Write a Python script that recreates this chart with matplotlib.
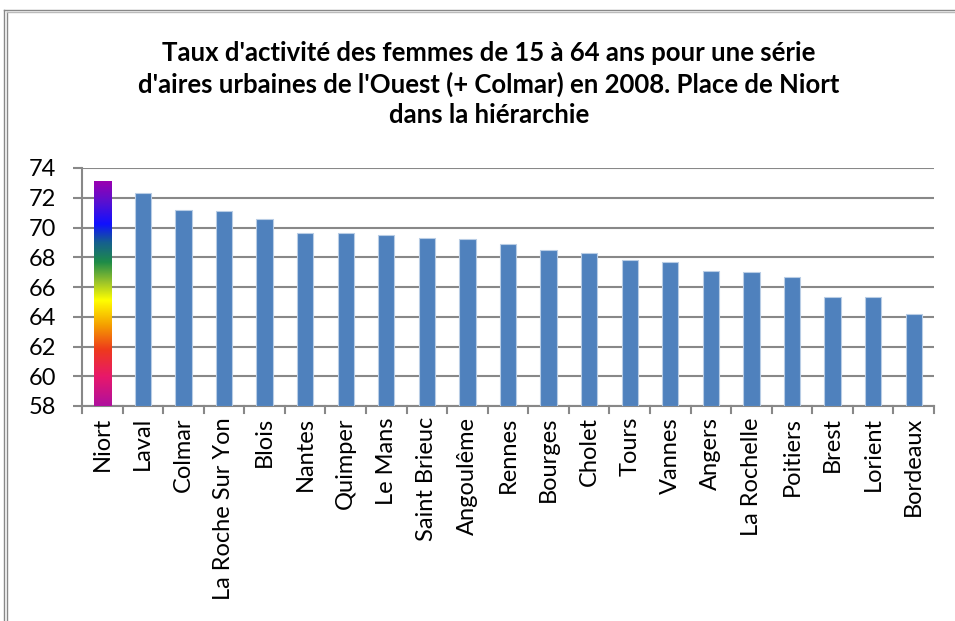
import numpy as np
import matplotlib
matplotlib.use("Agg")
import matplotlib.pyplot as plt
from matplotlib.colors import LinearSegmentedColormap
from matplotlib.lines import Line2D

plt.rcParams['font.family'] = ['Lato', 'DejaVu Sans']

title = "Taux d'activité des femmes de 15 à 64 ans pour une série\nd'aires urbaines de l'Ouest (+ Colmar) en 2008. Place de Niort\ndans la hiérarchie"
villes = ["Niort", "Laval", "Colmar", "La Roche Sur Yon", "Blois", "Nantes", "Quimper",
          "Le Mans", "Saint Brieuc", "Angoulême", "Rennes", "Bourges", "Cholet", "Tours",
          "Vannes", "Angers", "La Rochelle", "Poitiers", "Brest", "Lorient", "Bordeaux"]
taux = [73.1, 72.3, 71.2, 71.1, 70.6, 69.6, 69.6, 69.5, 69.3, 69.2, 68.9, 68.5, 68.3,
        67.8, 67.7, 67.1, 67.0, 66.7, 65.3, 65.3, 64.2]
yticks = [58, 60, 62, 64, 66, 68, 70, 72, 74]

fig = plt.figure(figsize=(9.55, 6.21), dpi=100)
ax = fig.add_axes([82/955, 1-406/621, (934-82)/955, (406-168)/621])

x = np.arange(len(villes))
widths = [0.43] + [0.40]*(len(villes)-1)
bars = ax.bar(x, [t - 58 for t in taux], bottom=58, width=widths, color="#4F81BD",
              edgecolor="#B9CDE5", linewidth=0.8, zorder=3)

# Gradient for Niort bar
grad_colors = [(0.0, "#B0109E"), (0.13, "#E8186A"), (0.25, "#EE3A1C"), (0.36, "#F5A000"),
               (0.47, "#FFFF00"), (0.55, "#9CC42A"), (0.64, "#1E8C48"), (0.73, "#155E90"),
               (0.81, "#1010FF"), (0.91, "#5A10D0"), (1.0, "#9A00B0")]
cmap = LinearSegmentedColormap.from_list("niort", grad_colors)
b0 = bars[0]
bx, bw = b0.get_x(), b0.get_width()
grad = np.linspace(0, 1, 256).reshape(-1, 1)
im = ax.imshow(grad, cmap=cmap, origin="lower", aspect="auto",
               extent=[bx, bx + bw, 58, taux[0]], zorder=4)
im.set_clip_path(b0)
b0.set_edgecolor("none")

ax.set_xlim(-0.5, len(villes) - 0.5)
ax.set_ylim(58, 74)
ax.set_yticks(yticks)
ax.set_yticklabels([str(v) for v in yticks], fontsize=17)
ax.set_xticks(x)
ax.set_xticklabels(villes, rotation=90, fontsize=17)
ax.tick_params(axis="x", length=0, pad=8)
ax.tick_params(axis="y", length=6.5, width=1.5, color="#888888", pad=12, direction="out")
for t in np.arange(-0.5, len(villes), 1.0):
    ax.plot([t, t], [0, -0.028], transform=ax.get_xaxis_transform(), color="#888888",
            lw=1.5, clip_on=False, zorder=5)
ax.grid(axis="y", color="#888888", lw=1.5, zorder=0)
for s in ["top", "right"]:
    ax.spines[s].set_visible(False)
ax.spines["left"].set_color("#888888")
ax.spines["left"].set_linewidth(1.5)
ax.spines["bottom"].set_color("#888888")
ax.spines["bottom"].set_linewidth(1.5)

fig.text(489/955, 1-84/621, title, ha="center", va="center", fontsize=18.5,
         fontweight="bold", linespacing=1.3)

# outer frame
fig.add_artist(Line2D([4/955, 4/955], [0, 1-10/621], color="#888888", lw=1.0))
fig.add_artist(Line2D([7/955, 7/955], [0, 1-12/621], color="#888888", lw=1.0))
fig.add_artist(Line2D([4/955, 1], [1-10/621, 1-10/621], color="#888888", lw=1.0))
fig.add_artist(Line2D([7/955, 1], [1-12/621, 1-12/621], color="#BBBBBB", lw=1.0))

fig.savefig("out.png", dpi=100)
